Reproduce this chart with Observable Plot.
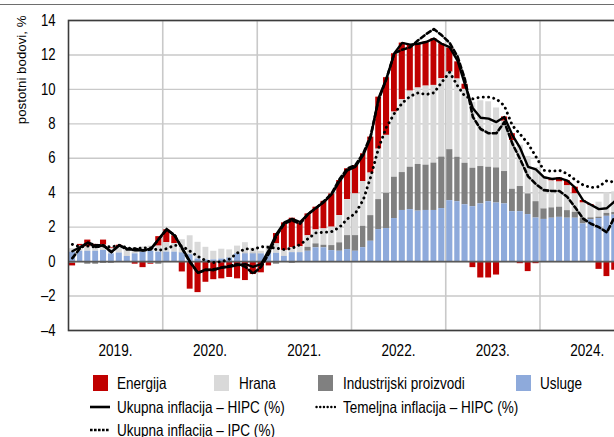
<!DOCTYPE html>
<html><head><meta charset="utf-8">
<script src="https://cdn.jsdelivr.net/npm/d3@7"></script>
<script src="https://cdn.jsdelivr.net/npm/@observablehq/plot@0.6"></script>
<style>
body{margin:0;background:#fff;}
#wrap{position:relative;width:614px;height:437px;overflow:hidden;background:#fff;font-family:'Liberation Sans',Arial,sans-serif;}
#toprule{position:absolute;left:0;top:4px;width:614px;height:0;border-top:1.6px solid #6e6e6e;}
#chart{position:absolute;left:0;top:0;width:641px;}
#chart svg{max-width:none !important;}
.lt{position:absolute;font-size:16.5px;line-height:14px;height:14px;color:#000;white-space:nowrap;transform:scaleX(0.82);transform-origin:0 50%;}
.sw{position:absolute;line-height:0;}
</style></head>
<body><div id="wrap"><div id="toprule"></div><div id="chart"></div></div>
<script>
// ---- data ----
const years = [2019, 2020, 2021, 2022, 2023, 2024];
const yearLabels = ["2019.", "2020.", "2021.", "2022.", "2023.", "2024."];
const yTicks = [-4, -2, 0, 2, 4, 6, 8, 10, 12, 14];
const yLabel = "postotni bodovi, %";
const seriesNames = ["Energija", "Hrana", "Industrijski proizvodi", "Usluge"];
const seriesColors = ["#c00000", "#d9d9d9", "#808080", "#8eaadb"];
const lineNames = ["Ukupna inflacija – HIPC (%)", "Temeljna inflacija – HIPC (%)", "Ukupna inflacija – IPC (%)"];

// monthly contributions, Jan 2019 – Oct 2024
const energija = [
 -0.15, 0.1, 0.4, 0.2, 0.3, 0.05, 0.1, 0.05, -0.15, -0.3, -0.05, 0.55,
 0.75, 0.45, -0.6, -1.6, -1.8, -1.2, -1.05, -1.0, -0.92, -1.0, -1.1, -0.75,
 -0.65, -0.2, 0.6, 1.6, 1.7, 1.35, 1.27, 1.32, 1.6, 1.93, 2.04, 1.79,
 1.65, 1.61, 2.09, 3.02, 3.35, 3.39, 3.29, 2.66, 2.57, 2.56, 2.72, 2.03,
 1.4, 1.0, 0.3, -0.35, -0.95, -0.95, -0.78, 0.25, 0.4, -0.12, -0.58, -0.12,
 0.0, 0.12, 0.24, 0.3, 0.39, 0.15, 0.06, -0.45, -0.87, -0.5];
const hrana = [
 0.2, 0.3, 0.25, 0.2, 0.3, 0.3, 0.35, 0.4, 0.35, 0.3, 0.3, 0.35,
 0.55, 0.5, 0.75, 1.1, 0.97, 0.73, 0.5, 0.57, 0.46, 0.43, 0.62, 0.3,
 0.15, 0.4, 0.55, 0.35, 0.3, 0.35, 0.67, 0.81, 0.95, 1.07, 1.58, 2.09,
 2.42, 2.6, 2.47, 2.93, 3.36, 3.78, 4.23, 4.42, 4.44, 4.59, 4.51, 4.55,
 4.5, 4.54, 4.29, 3.83, 3.82, 3.8, 3.48, 2.92, 2.83, 2.4, 2.17, 1.98,
 1.88, 1.56, 1.46, 1.44, 1.07, 0.88, 0.71, 0.87, 1.2, 1.2];
const industrija = [
 -0.1, -0.05, -0.15, -0.15, -0.1, -0.1, 0, -0.05, 0, -0.05, -0.1, -0.15,
 0.0, 0.0, 0.02, 0.0, 0.0, 0.0, 0.0, 0.0, 0.02, 0.02, 0.03, 0.03,
 0.0, -0.05, -0.15, 0.0, -0.1, 0.0, 0.23, 0.23, 0.15, 0.29, 0.49, 0.81,
 0.91, 1.24, 1.49, 1.74, 2.05, 2.4, 2.2, 2.46, 2.71, 2.63, 2.75, 2.99,
 2.96, 2.58, 2.41, 2.23, 2.17, 2.0, 2.04, 1.88, 1.3, 1.46, 1.2, 0.95,
 0.61, 0.6, 0.59, 0.44, 0.34, 0.33, 0.1, 0.08, 0.17, 0.15];
const usluge = [
 0.55, 0.6, 0.6, 0.6, 0.65, 0.45, 0.5, 0.3, 0.45, 0.55, 0.6, 0.55,
 0.55, 0.55, 0.5, 0.4, 0.15, 0.1, 0.1, 0.15, 0.2, 0.45, 0.45, 0.45,
 0.45, 0.54, 0.48, 0.3, 0.52, 0.52, 0.6, 0.8, 0.8, 0.64, 0.6, 0.7,
 0.6, 0.81, 1.18, 1.86, 1.92, 2.5, 2.97, 3.02, 2.93, 2.97, 2.97, 3.08,
 3.54, 3.48, 3.3, 3.19, 3.35, 3.48, 3.4, 3.35, 2.9, 2.9, 2.73, 2.53,
 2.45, 2.52, 2.57, 2.52, 2.52, 2.19, 2.44, 2.5, 2.63, 2.7];
const hipc = [
 0.6, 0.85, 1.1, 0.85, 0.95, 0.55, 0.95, 0.75, 0.65, 0.65, 0.75, 1.3,
 1.9, 1.5, 0.8, 0.0, -0.65, -0.45, -0.5, -0.35, -0.3, -0.2, -0.15, -0.3,
 -0.15, 0.7, 1.6, 2.28, 2.48, 2.3, 2.75, 3.12, 3.45, 3.9, 4.67, 5.3,
 5.5, 6.2, 7.2, 9.5, 10.6, 12.1, 12.7, 12.6, 12.65, 12.75, 12.95, 12.65,
 12.45, 11.65, 10.3, 8.9, 8.35, 8.3, 8.1, 8.4, 7.35, 6.6, 5.5, 5.35,
 4.9, 4.8, 4.85, 4.7, 4.3, 3.55, 3.3, 3.05, 3.1, 3.5];
const temeljna = [
 1.0, 0.85, 0.9, 0.85, 0.9, 0.85, 0.95, 0.8, 0.75, 0.8, 0.8, 0.65,
 0.75, 0.95, 0.9, 0.6, 0.3, 0.05, -0.05, 0.0, 0.15, 0.5, 0.75, 0.7,
 0.87, 0.83, 0.78, 0.7, 0.78, 0.99, 1.32, 1.67, 1.7, 1.74, 2.0, 2.48,
 2.8, 3.6, 4.9, 6.6, 7.8, 8.6, 9.2, 9.6, 9.8, 9.7, 9.8, 10.4,
 11.0, 10.2, 9.6, 9.45, 9.55, 9.55, 9.45, 9.05, 7.9, 7.4, 6.85, 6.1,
 5.3, 5.25, 5.3, 5.1, 4.75, 4.45, 4.3, 4.35, 4.7, 4.6];
const ipc = [
 0.2, 0.8, 1.1, 0.95, 0.95, 0.55, 0.95, 0.7, 0.75, 0.65, 0.7, 1.3,
 1.85, 1.55, 0.75, -0.05, -0.65, -0.5, -0.45, -0.35, -0.25, -0.15, -0.3, -0.7,
 -0.3, 0.5, 1.5, 2.2, 2.4, 2.2, 2.75, 3.1, 3.5, 3.95, 4.8, 5.4,
 5.6, 6.3, 7.3, 9.4, 10.6, 12.1, 12.3, 12.45, 12.85, 13.2, 13.5, 13.15,
 12.7, 11.9, 10.6, 8.4, 7.7, 7.45, 7.45, 8.1, 6.85, 5.95, 4.95, 4.5,
 4.15, 4.1, 4.1, 3.75, 3.15, 2.5, 2.2, 2.0, 1.7, 2.6];

// ---- build ----
const y0 = years[0];
const monthStart = i => new Date(Date.UTC(y0, i, 1));
const monthMid = i => new Date(Date.UTC(y0, i, 16));
const seriesValues = [energija, hrana, industrija, usluge];
const bars = [];
seriesNames.forEach((name, s) => {
  seriesValues[s].forEach((v, i) => bars.push({date: monthStart(i), next: monthStart(i + 1), series: name, value: v}));
});
const stackOrder = ["Usluge", "Industrijski proizvodi", "Hrana", "Energija"];
const font = "'Liberation Sans',Arial,sans-serif";

const chart = Plot.plot({
  width: 641, height: 362,
  marginLeft: 68, marginRight: 7, marginTop: 20, marginBottom: 32,
  x: {type: "utc", domain: [new Date(Date.UTC(y0, 0, 1)), new Date(Date.UTC(years[years.length - 1] + 1, 0, 1))]},
  y: {domain: [yTicks[0], yTicks[yTicks.length - 1]]},
  color: {domain: seriesNames, range: seriesColors},
  style: {fontFamily: font, fontSize: "16px", background: "transparent", color: "#000", maxWidth: "none"},
  marks: [
    Plot.gridY(yTicks, {stroke: "#c9c9c9", strokeOpacity: 1, strokeWidth: 1.4}),
    Plot.ruleX(years.slice(1).map(y => new Date(Date.UTC(y, 0, 1))), {stroke: "#c9c9c9", strokeWidth: 1.6}),
    Plot.rectY(bars, Plot.stackY({x1: "date", x2: "next", y: "value", fill: "series", order: stackOrder, insetLeft: 1, insetRight: 0.9})),
    Plot.ruleY([0], {stroke: "#5a5a5a", strokeWidth: 1.8}),
    Plot.line(ipc, {x: (d, i) => monthMid(i), y: d => d, stroke: "#000", strokeWidth: 2.6, strokeDasharray: "4.5,3"}),
    Plot.line(temeljna, {x: (d, i) => monthMid(i), y: d => d, stroke: "#000", strokeWidth: 2.9, strokeDasharray: "0.1,5.2", strokeLinecap: "round"}),
    Plot.line(hipc, {x: (d, i) => monthMid(i), y: d => d, stroke: "#000", strokeWidth: 2.4}),
    Plot.axisY(yTicks, {tickSize: 0, tickPadding: 13, fontSize: 16, tickFormat: d => d < 0 ? "\u2013" + Math.abs(d) : String(d), label: null}),
    Plot.axisX(years.map(y => new Date(Date.UTC(y, 6, 2))), {tickSize: 0, tickPadding: 14, fontSize: 16.5, tickFormat: d => yearLabels[years.indexOf(d.getUTCFullYear())], label: null}),
    Plot.text([yLabel], {frameAnchor: "top-left", rotate: -90, textAnchor: "end", dx: -52, dy: -5, fontSize: 13.3, className: "ylab"}),
    Plot.frame({stroke: "#3c3c3c", strokeWidth: 1.6})
  ]
});
chart.style.maxWidth = "none";
chart.setAttribute("width", 641);
document.getElementById("chart").appendChild(chart);
// narrow the glyphs of axis labels (Arial Narrow look); rotated title left as is
chart.querySelectorAll("g[aria-label^='y-axis'] text, g[aria-label^='x-axis'] text").forEach(t => {
  const w = t.getComputedTextLength();
  if (w > 0) { t.setAttribute("textLength", (w * 0.82).toFixed(2)); t.setAttribute("lengthAdjust", "spacingAndGlyphs"); }
});

// ---- legend ----
const wrap = document.getElementById("wrap");
function addText(txt, left, cy) {
  const s = document.createElement("div");
  s.className = "lt"; s.textContent = txt;
  s.style.left = left + "px"; s.style.top = (cy - 7) + "px";
  wrap.appendChild(s);
}
function addSwatch(svg, left, top, w, h) {
  const d = document.createElement("div");
  d.className = "sw"; d.style.left = left + "px"; d.style.top = top + "px";
  d.innerHTML = `<svg width="${w}" height="${h}">${svg}</svg>`;
  wrap.appendChild(d);
}
const row1 = 383, row2 = 407, row3 = 429.5;
const boxLeft = [93, 214, 318, 516], textLeft = [117, 239, 343, 540];
seriesNames.forEach((n, i) => {
  addSwatch(`<rect width="15" height="16" fill="${seriesColors[i]}"/>`, boxLeft[i], row1 - 8, 15, 16);
  addText(n, textLeft[i], row1);
});
addSwatch(`<line x1="0" y1="3" x2="20" y2="3" stroke="#000" stroke-width="2.6"/>`, 90, row2 - 3, 20, 6);
addText(lineNames[0], 117, row2);
addSwatch(`<line x1="1.5" y1="3" x2="20" y2="3" stroke="#000" stroke-width="2.4" stroke-dasharray="0.1,3.6" stroke-linecap="round"/>`, 315, row2 - 3, 21, 6);
addText(lineNames[1], 343, row2);
addSwatch(`<line x1="0" y1="3" x2="20" y2="3" stroke="#000" stroke-width="2.4" stroke-dasharray="2.6,1.4"/>`, 90, row3 - 3, 20, 6);
addText(lineNames[2], 117, row3);
</script>
</body></html>
